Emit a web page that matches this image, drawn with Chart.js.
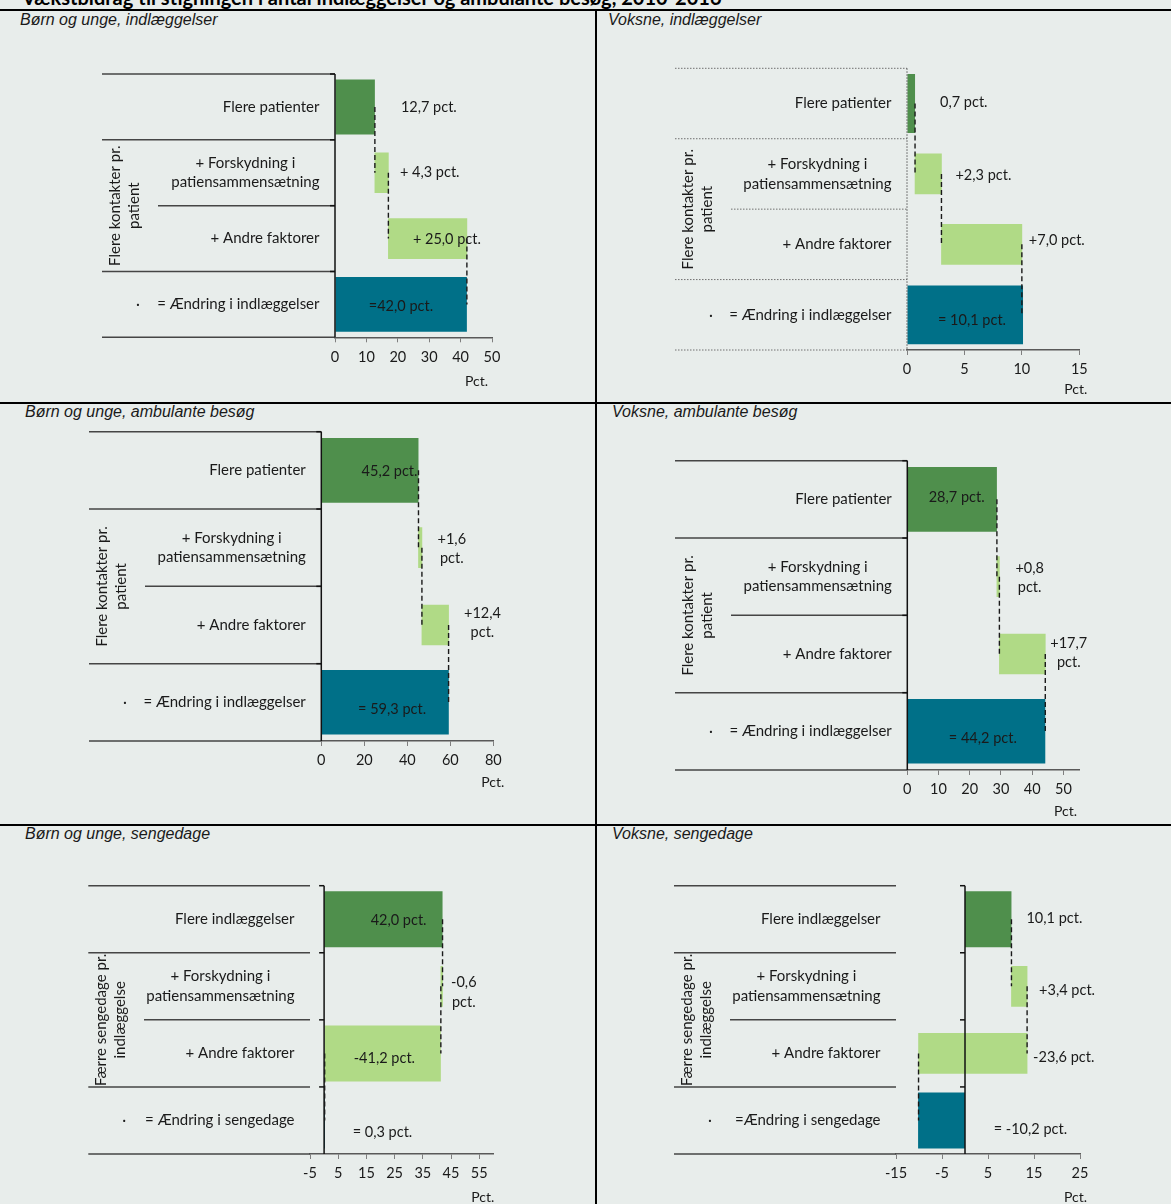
<!DOCTYPE html>
<html><head><meta charset="utf-8">
<script src="https://cdn.jsdelivr.net/npm/chart.js@4.4.1/dist/chart.umd.min.js"></script>
<style>
html,body{margin:0;padding:0;background:#e8edeb;}
body{width:1171px;height:1204px;position:relative;overflow:hidden;font-family:Lato,sans-serif;}
.ln{position:absolute;background:#000;}
.pt{position:absolute;font-family:"Liberation Sans",Arial,sans-serif;font-style:italic;font-size:16px;line-height:18px;color:#1a1a1a;white-space:nowrap;}
canvas{position:absolute;}
#mt{position:absolute;left:22px;top:-13px;font-family:Lato,sans-serif;font-weight:bold;font-size:20px;line-height:20px;white-space:nowrap;color:#000;}
</style></head>
<body>
<div id="mt">Vækstbidrag til stigningen i antal indlæggelser og ambulante besøg, 2010-2016</div>
<div class="ln" style="left:0;top:9px;width:1171px;height:2px"></div>
<div class="ln" style="left:595px;top:9px;width:2px;height:1195px"></div>
<div class="ln" style="left:0;top:402px;width:1171px;height:2px"></div>
<div class="ln" style="left:0;top:824px;width:1171px;height:2px"></div>
<div class="pt" style="left:20px;top:11px">Børn og unge, indlæggelser</div>
<div class="pt" style="left:608px;top:11px">Voksne, indlæggelser</div>
<div class="pt" style="left:25px;top:403px">Børn og unge, ambulante besøg</div>
<div class="pt" style="left:612px;top:403px">Voksne, ambulante besøg</div>
<div class="pt" style="left:25px;top:825px">Børn og unge, sengedage</div>
<div class="pt" style="left:612px;top:825px">Voksne, sengedage</div>
<script>
// ---------- data ----------
const catsContacts = ['Flere patienter', '+ Forskydning i\npatiensammensætning', '+ Andre faktorer', '= Ændring i indlæggelser'];
const catsBedBorn = ['Flere indlæggelser', '+ Forskydning i\npatiensammensætning', '+ Andre faktorer', '= Ændring i sengedage'];
const catsBedVoksne = ['Flere indlæggelser', '+ Forskydning i\npatiensammensætning', '+ Andre faktorer', '=Ændring i sengedage'];
const groupContacts = ['Flere kontakter pr.', 'patient'];
const groupBed = ['Færre sengedage pr.', 'indlæggelse'];
const rowDot = '·';
const axisUnit = 'Pct.';

const valsBornIndl = [12.7, 4.3, 25.0, 42.0];
const valsVoksIndl = [0.7, 2.3, 7.0, 10.1];
const valsBornAmb  = [45.2, 1.6, 12.4, 59.3];
const valsVoksAmb  = [28.7, 0.8, 14.7, 44.2];
const valsBornSeng = [42.0, -0.6, -41.2, 0.3];
const valsVoksSeng = [10.1, 3.4, -23.6, -10.2];

const lblBornIndl = ['12,7 pct.', '+ 4,3 pct.', '+ 25,0 pct.', '=42,0 pct.'];
const lblVoksIndl = ['0,7 pct.', '+2,3 pct.', '+7,0 pct.', '= 10,1 pct.'];
const lblBornAmb  = ['45,2 pct.', '+1,6\npct.', '+12,4\npct.', '= 59,3 pct.'];
const lblVoksAmb  = ['28,7 pct.', '+0,8\npct.', '+17,7\npct.', '= 44,2 pct.'];
const lblBornSeng = ['42,0 pct.', '-0,6\npct.', '-41,2 pct.', '= 0,3 pct.'];
const lblVoksSeng = ['10,1 pct.', '+3,4 pct.', '-23,6 pct.', '= -10,2 pct.'];

const ticksBornIndl = [0, 10, 20, 30, 40, 50];
const ticksVoksIndl = [0, 5, 10, 15];
const ticksBornAmb  = [0, 20, 40, 60, 80];
const ticksVoksAmb  = [0, 10, 20, 30, 40, 50];
const ticksBornSeng = [-5, 5, 15, 25, 35, 45, 55];
const ticksVoksSeng = [-15, -5, 5, 15, 25];

// ---------- style ----------
const C_DARK = '#4f8f4c', C_LIGHT = '#b0da86', C_TEAL = '#007088';
const FONT = 'Lato, sans-serif';
const XH = 30;

function decor(cfg) {
  return {
    id: 'decor' + cfg.id,
    afterDatasetsDraw(chart) {
      const ctx = chart.ctx, xs = chart.scales.x, ys = chart.scales.y, a = chart.chartArea;
      const n = cfg.categories.length;
      const rowH = (a.bottom - a.top) / n;
      const x0 = xs.getPixelForValue(0);
      const sepL = cfg.sepLeft - cfg.canvas.x, midL = cfg.midSepLeft - cfg.canvas.x;
      const line = (x1, y1, x2, y2) => { ctx.beginPath(); ctx.moveTo(x1, y1); ctx.lineTo(x2, y2); ctx.stroke(); };
      ctx.save();
      // separators
      ctx.strokeStyle = cfg.dotted ? '#707070' : '#454545';
      ctx.lineWidth = cfg.dotted ? 1 : 1.5;
      ctx.setLineDash(cfg.dotted ? [1.5, 1.5] : []);
      for (let k = 0; k <= n; k++) {
        const y = a.top + k * rowH;
        line(k === 2 ? midL : sepL, y, a.left, y);
      }
      // value axis line at zero
      ctx.strokeStyle = cfg.dotted ? '#555' : '#111';
      ctx.lineWidth = cfg.dotted ? 1 : 1.5;
      line(x0, a.top, x0, a.bottom);
      if (!cfg.dotted) {
        for (let k = 0; k < n; k++) { const y = a.top + k * rowH; line(x0 - 5, y, x0, y); }
      }
      // connectors
      const v = cfg.values; let run = 0; const ends = [];
      for (let i = 0; i < n - 1; i++) { run += v[i]; ends.push(run); }
      ctx.setLineDash([5, 3]);
      ctx.strokeStyle = '#1a1a1a';
      ctx.lineWidth = 1.4;
      for (let i = 0; i < n - 1; i++) {
        const x = xs.getPixelForValue(ends[i]);
        line(x, ys.getPixelForValue(i), x, ys.getPixelForValue(i + 1));
      }
      ctx.setLineDash([]);
      // category labels
      ctx.fillStyle = '#1a1a1a';
      ctx.textBaseline = 'middle';
      const drawBlock = (lines, xRef, mode, yc) => {
        const w = Math.max(...lines.map(s => ctx.measureText(s).width));
        let cx = mode === 'right' ? xRef - w / 2 : mode === 'left' ? xRef + w / 2 : xRef;
        ctx.textAlign = 'center';
        lines.forEach((s, j) => ctx.fillText(s, cx, yc + (j - (lines.length - 1) / 2) * 19.5));
        return w;
      };
      ctx.font = '15px ' + FONT;
      cfg.categories.forEach((c, i) => {
        drawBlock(c.split('\n'), a.left - 15.5, 'right', ys.getPixelForValue(i));
      });
      // dot in the group column of the last row
      ctx.textAlign = 'center';
      ctx.fillText(rowDot, sepL + 36, ys.getPixelForValue(n - 1));
      // group label
      ctx.save();
      ctx.translate(sepL + 22.5, a.top + 2 * rowH);
      ctx.rotate(-Math.PI / 2);
      ctx.textAlign = 'center';
      cfg.group.forEach((s, j) => ctx.fillText(s, 0, (j - 0.5) * 19.5));
      ctx.restore();
      // data labels
      ctx.font = '14.5px ' + FONT;
      const ranges = [];
      run = 0;
      for (let i = 0; i < n - 1; i++) { ranges.push([run, run + v[i]]); run += v[i]; }
      ranges.push([0, v[n - 1]]);
      cfg.labels.forEach((lab, i) => {
        const [mode, dx, dy] = cfg.place[i];
        const p1 = xs.getPixelForValue(ranges[i][0]), p2 = xs.getPixelForValue(ranges[i][1]);
        const hi = Math.max(p1, p2), mid = (p1 + p2) / 2;
        const yc = ys.getPixelForValue(i) + dy;
        const lines = lab.split('\n');
        if (mode === 'c') drawBlock(lines, mid + dx, 'center', yc);
        else if (mode === 'in') drawBlock(lines, hi + dx, 'right', yc);
        else drawBlock(lines, hi + dx, 'left', yc);
      });
      // unit
      ctx.textAlign = 'right';
      ctx.font = '14px ' + FONT;
      ctx.fillText(axisUnit, a.right + cfg.pct[0], a.bottom + cfg.pct[1]);
      ctx.restore();
    }
  };
}

function makeChart(cfg) {
  const cv = document.createElement('canvas');
  cv.width = cfg.canvas.w; cv.height = cfg.canvas.h;
  cv.style.left = cfg.canvas.x + 'px'; cv.style.top = cfg.canvas.y + 'px';
  cv.style.width = cfg.canvas.w + 'px'; cv.style.height = cfg.canvas.h + 'px';
  document.body.appendChild(cv);
  const v = cfg.values, n = v.length;
  const ranges = []; let run = 0;
  for (let i = 0; i < n - 1; i++) { ranges.push([run, run + v[i]]); run += v[i]; }
  ranges.push([0, v[n - 1]]);
  const colors = [C_DARK, C_LIGHT, C_LIGHT, C_TEAL];
  new Chart(cv, {
    type: 'bar',
    data: {
      labels: cfg.categories,
      datasets: [
        { data: ranges.map((r, i) => cfg.thick[i] ? r : null), backgroundColor: colors, barPercentage: 0.835, categoryPercentage: 1, grouped: false },
        { data: ranges.map((r, i) => cfg.thick[i] ? null : r), backgroundColor: colors, barThickness: 40, grouped: false }
      ]
    },
    options: {
      indexAxis: 'y', responsive: false, animation: false, devicePixelRatio: 1,
      layout: { padding: {
        left: cfg.area.l - cfg.canvas.x,
        right: cfg.canvas.x + cfg.canvas.w - cfg.area.r,
        top: cfg.area.t - cfg.canvas.y,
        bottom: cfg.canvas.y + cfg.canvas.h - cfg.area.b - XH } },
      plugins: { legend: { display: false }, tooltip: { enabled: false } },
      scales: {
        y: { display: false },
        x: {
          min: cfg.min, max: cfg.max,
          afterBuildTicks: s => { s.ticks = cfg.ticks.map(t => ({ value: t })); },
          afterFit: s => { s.height = XH; },
          grid: { drawOnChartArea: false, drawTicks: true, tickLength: 5, color: '#7f7f7f', lineWidth: 1 },
          border: { display: true, color: '#595959', width: 1.5 },
          ticks: { font: { family: FONT, size: 14.5 }, color: '#1a1a1a', padding: 6, autoSkip: false, maxRotation: 0, callback: val => String(val) }
        }
      }
    },
    plugins: [decor(cfg)]
  });
}

makeChart({ id: 1, categories: catsContacts, group: groupContacts, values: valsBornIndl, labels: lblBornIndl, ticks: ticksBornIndl,
  min: 0, max: 50, canvas: { x: 0, y: 11, w: 595, h: 391 }, area: { l: 335, t: 74, r: 492, b: 337.3 },
  sepLeft: 102, midSepLeft: 158, dotted: false, thick: [1, 0, 0, 1],
  place: [['out', 26, 0], ['out', 11.5, 0], ['out', -54, 1], ['c', 0, 2]], pct: [-4, 44] });

makeChart({ id: 2, categories: catsContacts, group: groupContacts, values: valsVoksIndl, labels: lblVoksIndl, ticks: ticksVoksIndl,
  min: 0, max: 15, canvas: { x: 597, y: 11, w: 574, h: 391 }, area: { l: 907, t: 68.3, r: 1079.3, b: 350 },
  sepLeft: 675, midSepLeft: 731, dotted: true, thick: [1, 0, 0, 1],
  place: [['out', 25, -1], ['out', 14, 1], ['out', 7, -4], ['c', 7, 6]], pct: [8, 39] });

makeChart({ id: 3, categories: catsContacts, group: groupContacts, values: valsBornAmb, labels: lblBornAmb, ticks: ticksBornAmb,
  min: 0, max: 80, canvas: { x: 0, y: 404, w: 595, h: 420 }, area: { l: 321.3, t: 431.7, r: 493.3, b: 741 },
  sepLeft: 89, midSepLeft: 145, dotted: false, thick: [1, 0, 0, 1],
  place: [['in', -1, 1], ['out', 15.6, 1], ['out', 15.4, -2], ['c', 7, 7]], pct: [11, 41] });

makeChart({ id: 4, categories: catsContacts, group: groupContacts, values: valsVoksAmb, labels: lblVoksAmb, ticks: ticksVoksAmb,
  min: 0, max: 55, canvas: { x: 597, y: 404, w: 574, h: 420 }, area: { l: 907.3, t: 460.7, r: 1079, b: 770 },
  sepLeft: 675, midSepLeft: 731, dotted: false, thick: [1, 0, 0, 1],
  place: [['c', 4.5, -2], ['out', 16, 1], ['out', 5, -1], ['c', 6.5, 7]], pct: [-2, 41] });

makeChart({ id: 5, categories: catsBedBorn, group: groupBed, values: valsBornSeng, labels: lblBornSeng, ticks: ticksBornSeng,
  min: -5, max: 60, canvas: { x: 0, y: 826, w: 595, h: 378 }, area: { l: 310, t: 885.7, r: 493.3, b: 1154 },
  sepLeft: 88.3, midSepLeft: 144, dotted: false, thick: [1, 0, 1, 1],
  place: [['in', -16, 1], ['out', 8.5, 6], ['c', 1.6, 5], ['out', 27.7, 12]], pct: [1, 43] });

makeChart({ id: 6, categories: catsBedVoksne, group: groupBed, values: valsVoksSeng, labels: lblVoksSeng, ticks: ticksVoksSeng,
  min: -15, max: 25, canvas: { x: 597, y: 826, w: 574, h: 378 }, area: { l: 896, t: 885.7, r: 1080, b: 1154 },
  sepLeft: 674, midSepLeft: 730, dotted: false, thick: [1, 0, 0, 1],
  place: [['out', 15, -1], ['out', 12, 4], ['out', 6, 4], ['out', 28.7, 9]], pct: [7, 43] });
</script>
</body></html>
